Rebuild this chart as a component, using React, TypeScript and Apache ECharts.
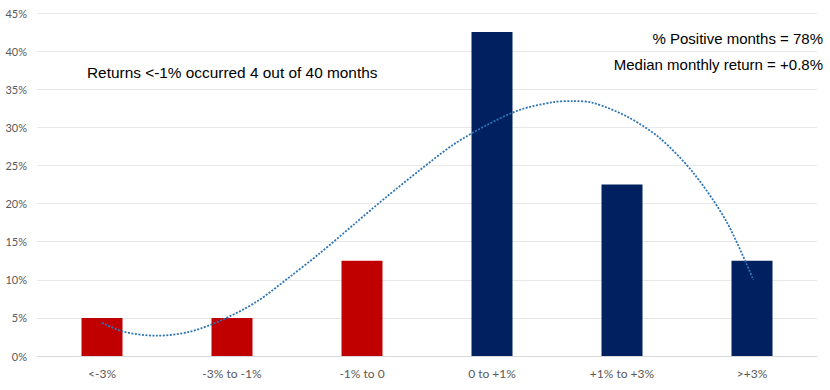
import React, { useEffect, useRef } from "react";
import * as echarts from "echarts";

const categories = ["<-3%", "-3% to -1%", "-1% to 0", "0 to +1%", "+1% to +3%", ">+3%"];
const shareOfMonths = [5, 5, 12.5, 42.5, 22.5, 12.5];
// trendline: [category position, value %]
const trendX = [0, 0.164, 0.42, 0.677, 0.933, 1.19, 1.446, 1.677, 1.933, 2.19, 2.446, 2.7, 2.96, 3.215, 3.47, 3.62, 3.78, 4.04, 4.29, 4.55, 4.805, 5.01];
const trendY = [4.37, 3.19, 2.66, 3.19, 4.81, 7.13, 10.4, 13.5, 17.2, 20.9, 24.4, 27.7, 30.3, 32.3, 33.3, 33.45, 33.2, 31.4, 28.6, 24.0, 17.6, 10.0];
const annotations = [
  "Returns <-1% occurred 4 out of 40 months",
  "% Positive months = 78%",
  "Median monthly return = +0.8%",
];

export default function App() {
  const ref = useRef<HTMLDivElement>(null);
  useEffect(() => {
    if (!ref.current) return;
    const chart = echarts.init(ref.current, null, { renderer: "svg" });
    const labelFont = "Lato, 'Open Sans', sans-serif";
    const noteFont = "'Liberation Sans', Arial, sans-serif";
    chart.setOption({
      animation: false,
      backgroundColor: "#ffffff",
      grid: { left: 37, right: 13, top: 13, bottom: 34, containLabel: false },
      xAxis: [
        {
          type: "category",
          data: categories,
          axisTick: { show: false },
          axisLine: { show: true, lineStyle: { color: "#D9D9D9", width: 1 } },
          axisLabel: { color: "#595959", fontSize: 12, fontFamily: labelFont, margin: 11 },
        },
        {
          type: "value",
          min: -0.5,
          max: 5.5,
          show: false,
        },
      ],
      yAxis: {
        type: "value",
        min: 0,
        max: 45,
        interval: 5,
        axisLine: { show: false },
        axisTick: { show: false },
        splitLine: { lineStyle: { color: "#E8E8E8", width: 1 } },
        axisLabel: {
          formatter: "{value}%",
          color: "#595959",
          fontSize: 11,
          fontFamily: labelFont,
          margin: 10,
        },
      },
      series: [
        {
          type: "bar",
          xAxisIndex: 0,
          data: shareOfMonths,
          barWidth: 41,
          itemStyle: {
            color: (p: any) => (p.dataIndex < 3 ? "#C00000" : "#002060"),
          },
        },
        {
          type: "line",
          xAxisIndex: 1,
          data: trendX.map((x, i) => [x, trendY[i]]),
          smooth: 0.3,
          showSymbol: false,
          symbol: "none",
          lineStyle: { color: "#2E75B6", width: 1.8, type: [2, 1.5] },
          z: 5,
        },
      ],
      graphic: [
        {
          type: "text",
          left: 87,
          top: 65,
          style: { text: annotations[0], fontSize: 15.4, fontFamily: noteFont, fill: "#000000" },
        },
        {
          type: "text",
          right: 7,
          top: 31,
          style: { text: annotations[1], fontSize: 15, fontFamily: noteFont, fill: "#000000" },
        },
        {
          type: "text",
          right: 7,
          top: 57,
          style: { text: annotations[2], fontSize: 15, fontFamily: noteFont, fill: "#000000" },
        },
      ],
    });
    return () => chart.dispose();
  }, []);
  return (
    <div
      ref={ref}
      style={{ position: "fixed", left: 0, top: 0, width: 830, height: 390, background: "#fff" }}
    />
  );
}
